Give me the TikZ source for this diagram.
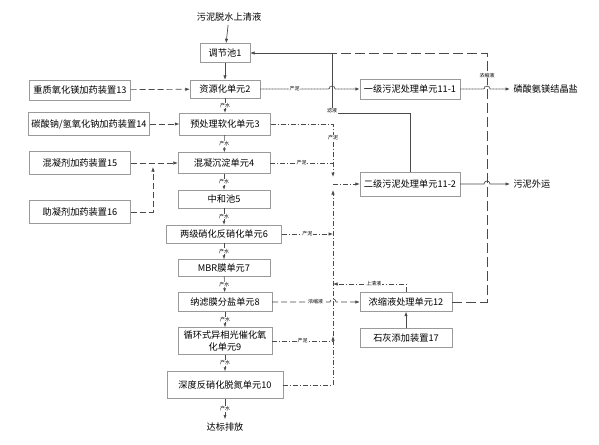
\documentclass[tikz,border=0pt]{standalone}
\usepackage{fontspec}
\newfontfamily\cjk{Noto Sans CJK SC}
\usetikzlibrary{arrows.meta}
\definecolor{boxgray}{HTML}{9A9A9A}
\definecolor{linegray}{HTML}{4A4A4A}
\tikzset{
  box/.style={draw=boxgray, fill=white, inner sep=1pt, align=center,
    font=\cjk\fontsize{9.2}{11}\selectfont},
  lab/.style={fill=white, inner sep=0.6pt, font=\cjk\fontsize{5}{5}\selectfont},
  tip/.style={-{Latex[length=4.5pt,width=3.5pt]}},
  solidline/.style={draw=linegray, line width=0.7pt},
  dotline/.style={draw=linegray, line width=0.9pt, dash pattern=on 1pt off 0.5pt},
  dashline/.style={draw=linegray, line width=0.7pt, dash pattern=on 6pt off 3pt},
  longdash/.style={draw=linegray, line width=0.7pt, dash pattern=on 10pt off 4pt},
  dotdash/.style={draw=linegray, line width=0.7pt, dash pattern=on 5pt off 2pt on 1pt off 2pt},
  prodwater/.style={draw=linegray, line width=0.6pt, -{Latex[length=4pt,width=3pt]}},
}
\begin{document}
\begin{tikzpicture}[x=1pt,y=-1pt]
  \useasboundingbox (0,0) rectangle (599,444);
  % main column
  \node[font=\cjk\fontsize{9.2}{11}\selectfont] (inflow) at (229,17) {污泥脱水上清液};
  \node[box, minimum width=50pt, minimum height=19pt] (tank1) at (225,53) {调节池1};
  \node[box, minimum width=70pt, minimum height=18pt] (res2) at (225,89) {资源化单元2};
  \node[box, minimum width=91pt, minimum height=22pt] (soft3) at (225,124) {预处理软化单元3};
  \node[box, minimum width=92pt, minimum height=21pt] (coag4) at (224,163) {混凝沉淀单元4};
  \node[box, minimum width=92pt, minimum height=18pt] (neut5) at (224,199) {中和池5};
  \node[box, minimum width=115pt, minimum height=18pt] (nitr6) at (224,234) {两级硝化反硝化单元6};
  \node[box, minimum width=92pt, minimum height=17pt] (mbr7) at (224,268) {MBR膜单元7};
  \node[box, minimum width=94pt, minimum height=19pt] (nf8) at (225,302) {纳滤膜分盐单元8};
  \node[box, minimum width=94pt, minimum height=27pt, font=\cjk\fontsize{9.2}{12}\selectfont] (photo9) at (225,341) {循环式异相光催化氧\\化单元9};
  \node[box, minimum width=116pt, minimum height=27pt] (deni10) at (225,385) {深度反硝化脱氮单元10};
  \node[font=\cjk\fontsize{9.2}{11}\selectfont] (outlet) at (225,427) {达标排放};
  % dosing units
  \node[box, minimum width=101pt, minimum height=20pt] (dose13) at (80,90) {重质氧化镁加药装置13};
  \node[box, minimum width=121pt, minimum height=23pt] (dose14) at (89,124) {碳酸钠/氢氧化钠加药装置14};
  \node[box, minimum width=101pt, minimum height=23pt] (dose15) at (80,163) {混凝剂加药装置15};
  \node[box, minimum width=101pt, minimum height=23pt] (dose16) at (80,212) {助凝剂加药装置16};
  % sludge and concentrate units
  \node[box, minimum width=100pt, minimum height=20pt] (sludge1) at (410,89) {一级污泥处理单元11-1};
  \node[box, minimum width=100pt, minimum height=24pt] (sludge2) at (410,184) {二级污泥处理单元11-2};
  \node[box, minimum width=92pt, minimum height=19pt] (conc12) at (406,302) {浓缩液处理单元12};
  \node[box, minimum width=92pt, minimum height=19pt] (lime17) at (406,338) {石灰添加装置17};
  \node[font=\cjk\fontsize{9.2}{11}\selectfont, anchor=west] (salt) at (510,89) {磷酸氨镁结晶盐};
  \node[font=\cjk\fontsize{9.2}{11}\selectfont, anchor=west] (haul) at (510,184) {污泥外运};
  \coordinate (top) at (332,53);
  \coordinate (rim) at (487,53);

  % water through the main column
  \draw[solidline, tip] (inflow) -- (tank1);
  \draw[solidline, tip] (tank1) -- (res2);
  \draw[prodwater] (res2) -- node[lab]{产水} (soft3);
  \draw[prodwater] (soft3) -- node[lab]{产水} (coag4);
  \draw[prodwater] (coag4) -- node[lab]{产水} (neut5);
  \draw[prodwater] (neut5) -- node[lab]{产水} (nitr6);
  \draw[prodwater] (nitr6) -- node[lab]{产水} (mbr7);
  \draw[prodwater] (mbr7) -- node[lab]{产水} (nf8);
  \draw[prodwater] (nf8) -- node[lab]{产水} (photo9);
  \draw[prodwater] (photo9) -- node[lab]{产水} (deni10);
  \draw[prodwater] (deni10) -- node[lab]{产水} (outlet);

  % dosing
  \draw[dashline, tip] (dose13) -- (res2);
  \draw[dashline, tip] (dose14) -- (soft3);
  \draw[dashline, tip] (dose15) -- (coag4);
  \draw[dashline, tip] (dose16) -| (153,167);

  % filtrate and concentrate back to tank 1
  \draw[longdash] (conc12.east) -| node[lab, pos=0.955]{浓缩液} (rim) -- (top);
  \draw[solidline, tip] (sludge2.north) |- (332,113) node[lab, above=-1pt]{滤液} |- (tank1.east);

  % sludge lines
  \draw[dotline, tip] (res2.east) -- node[lab]{产泥} (329,89)
    arc[start angle=180, end angle=0, radius=3pt] -- (sludge1.west);
  \draw[dotline, tip] (sludge1.east) -- (484,89)
    arc[start angle=180, end angle=0, radius=3pt] -- (salt.west);
  \draw[solidline, tip] (sludge2.east) -- (484,184)
    arc[start angle=180, end angle=0, radius=3pt] -- (haul.west);
  \draw[dotdash, tip] (soft3.east) -| node[lab, pos=0.63]{产泥} (333,177);
  \draw[dotdash] (coag4.east) -- node[lab]{产泥} (333,163);
  \draw[dotdash, tip] (nitr6.east) -- node[lab]{产泥} (333,234);
  \draw[dotdash, tip] (333,184) -- (sludge2.west);
  \draw[dotdash, tip] (deni10.east) -| (333,336);
  \draw[dotdash, tip] (333,336) -- (333,190);
  \draw[dotdash] (photo9.east) -- node[lab]{产泥} (333,341);
  \draw[dotdash, tip] (conc12.north) |- node[lab, pos=0.72]{上清液} (333,284);

  % concentrate
  \draw[dashline, tip] (nf8.east) -- node[lab, pos=0.75]{浓缩液} (330,302)
    arc[start angle=180, end angle=0, radius=3pt] -- (conc12.west);
  \draw[solidline, tip] (lime17) -- (conc12);
\end{tikzpicture}
\end{document}
